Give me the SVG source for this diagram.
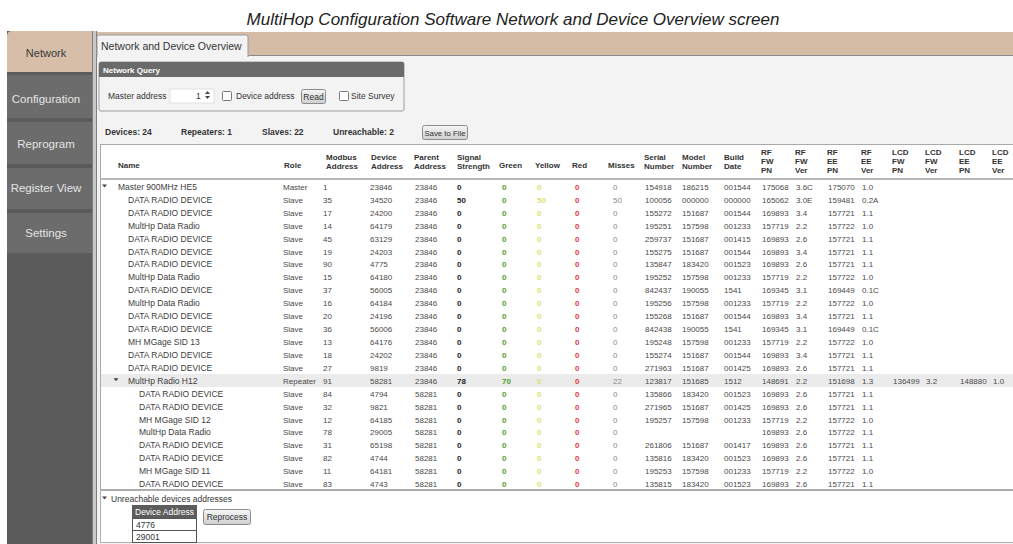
<svg xmlns="http://www.w3.org/2000/svg" width="1013" height="544" viewBox="0 0 1013 544">
<defs>
<linearGradient id="btn" x1="0" y1="0" x2="0" y2="1"><stop offset="0" stop-color="#f6f6f6"/><stop offset="1" stop-color="#cfcfcf"/></linearGradient>
<style>
text{font-family:"Liberation Sans",Arial,sans-serif}
.title{font-size:17px;font-style:italic;fill:#222}
.navt{font-size:11.5px;fill:#e4e4e4;text-anchor:middle}
.nav1{font-size:11px;fill:#3a3a3a;text-anchor:middle}
.tab{fill:#6c6c6c}
.lab{font-size:8.5px;fill:#333}
.bt{font-size:8.5px;fill:#333;text-anchor:middle}
.st{font-size:8.5px;font-weight:bold;fill:#333}
.h{font-size:8px;font-weight:bold;fill:#333}
.nm{font-size:8.5px;fill:#3d3d3d}
.v{font-size:8px;fill:#4a4a4a}
.sg{font-size:8px;font-weight:bold;fill:#1e1e1e}
.gr{font-size:8px;font-weight:bold;fill:#4f9d2d}
.yl{font-size:8px;font-weight:bold;fill:#e0e070}
.rd{font-size:8px;font-weight:bold;fill:#e03a3a}
.ms{font-size:8px;fill:#8a8a8a}
.b{fill:url(#btn);stroke:#8c8c8c;stroke-width:1}
.cb{fill:#fff;stroke:#777;stroke-width:1}
.arw{fill:#444}
</style>
</defs>
<rect width="1013" height="544" fill="#fff"/>
<text class="title" x="513" y="25" text-anchor="middle">MultiHop Configuration Software Network and Device Overview screen</text>

<g id="nav">
<rect x="7" y="31" width="85" height="513" fill="#5b5b5b"/>
<path d="M7,72 V36 Q7,31 12,31 H92 V72 Z" fill="#d6bea8"/>
<rect class="tab" x="7" y="75" width="85" height="43"/>
<rect class="tab" x="7" y="122" width="85" height="42"/>
<rect class="tab" x="7" y="168" width="85" height="41"/>
<rect class="tab" x="7" y="213" width="85" height="40"/>
<text class="nav1" x="46" y="57">Network</text>
<text class="navt" x="46" y="103">Configuration</text>
<text class="navt" x="46" y="148">Reprogram</text>
<text class="navt" x="46" y="192">Register View</text>
<text class="navt" x="46" y="237">Settings</text>
</g>

<g id="frame">
<rect x="92" y="31" width="5" height="513" fill="#c9c9c9"/>
<line x1="92.5" y1="31" x2="92.5" y2="544" stroke="#7d7d7d"/>
<line x1="96.5" y1="31" x2="96.5" y2="544" stroke="#7d7d7d"/>
<rect x="97" y="32" width="916" height="23" fill="#d5bca6"/>
<rect x="97" y="55" width="916" height="489" fill="#f3f3f3"/>
<line x1="97" y1="55.5" x2="1013" y2="55.5" stroke="#8b8b8b"/>
<path d="M97,57 V37 Q97,35 99,35 H246 Q248,35 248,37 V57" fill="#f3f3f3" stroke="#9a9a9a"/>
<text x="101" y="50" font-size="10.5" fill="#333">Network and Device Overview</text>
</g>

<g id="network-query">
<rect x="99" y="62" width="305" height="49" rx="2" fill="#f3f3f3" stroke="#9c9c9c"/>
<path d="M99,77 V64 Q99,62 101,62 H402 Q404,62 404,64 V77 Z" fill="#6a6a6a"/>
<text x="103" y="73" font-size="8px" font-weight="bold" fill="#fff">Network Query</text>
<text class="lab" x="108" y="99">Master address</text>
<rect x="170" y="89" width="44" height="14" fill="#fff" stroke="#e2e2e2"/>
<text class="lab" x="196" y="99">1</text>
<polygon class="arw" points="205,94 207.5,91 210,94"/>
<polygon class="arw" points="205,96 207.5,99 210,96"/>
<rect class="cb" x="222.5" y="91.5" width="9" height="9" rx="1"/>
<text class="lab" x="236" y="99">Device address</text>
<rect class="b" x="301.5" y="89.5" width="24" height="14" rx="2"/>
<text class="bt" x="313.5" y="99.5">Read</text>
<rect class="cb" x="339.5" y="91.5" width="9" height="9" rx="1"/>
<text class="lab" x="351" y="99">Site Survey</text>
</g>

<g id="stats">
<text class="st" x="105" y="135">Devices: 24</text>
<text class="st" x="181" y="135">Repeaters: 1</text>
<text class="st" x="262" y="135">Slaves: 22</text>
<text class="st" x="333" y="135">Unreachable: 2</text>
<rect class="b" x="422.5" y="125.5" width="45" height="14" rx="2"/>
<text x="445" y="135.5" font-size="7.8px" fill="#333" text-anchor="middle">Save to File</text>
</g>

<g id="table">
<rect x="100.5" y="144.5" width="915" height="345" fill="#fff" stroke="#a9a9a9"/>
<rect x="101" y="374" width="912" height="13" fill="#ebebeb"/>
<line x1="101" y1="179" x2="1013" y2="179" stroke="#b8b8b8" stroke-width="2"/>
<g id="header">
<text class="h" x="118" y="168">Name</text>
<text class="h" x="284" y="168">Role</text>
<text class="h" x="326" y="160">Modbus</text><text class="h" x="326" y="169">Address</text>
<text class="h" x="371" y="160">Device</text><text class="h" x="371" y="169">Address</text>
<text class="h" x="414" y="160">Parent</text><text class="h" x="414" y="169">Address</text>
<text class="h" x="457" y="160">Signal</text><text class="h" x="457" y="169">Strength</text>
<text class="h" x="499" y="168">Green</text>
<text class="h" x="535" y="168">Yellow</text>
<text class="h" x="572" y="168">Red</text>
<text class="h" x="608" y="168">Misses</text>
<text class="h" x="644" y="160">Serial</text><text class="h" x="644" y="169">Number</text>
<text class="h" x="682" y="160">Model</text><text class="h" x="682" y="169">Number</text>
<text class="h" x="724" y="160">Build</text><text class="h" x="724" y="169">Date</text>
<text class="h" x="761" y="155">RF</text><text class="h" x="761" y="164">FW</text><text class="h" x="761" y="173">PN</text>
<text class="h" x="795" y="155">RF</text><text class="h" x="795" y="164">FW</text><text class="h" x="795" y="173">Ver</text>
<text class="h" x="827" y="155">RF</text><text class="h" x="827" y="164">EE</text><text class="h" x="827" y="173">PN</text>
<text class="h" x="861" y="155">RF</text><text class="h" x="861" y="164">EE</text><text class="h" x="861" y="173">Ver</text>
<text class="h" x="892" y="155">LCD</text><text class="h" x="892" y="164">FW</text><text class="h" x="892" y="173">PN</text>
<text class="h" x="925" y="155">LCD</text><text class="h" x="925" y="164">FW</text><text class="h" x="925" y="173">Ver</text>
<text class="h" x="959" y="155">LCD</text><text class="h" x="959" y="164">EE</text><text class="h" x="959" y="173">PN</text>
<text class="h" x="992" y="155">LCD</text><text class="h" x="992" y="164">EE</text><text class="h" x="992" y="173">Ver</text>
</g>

<g id="row0" transform="translate(0,189.9)"><polygon class="arw" points="102,-5.5 107,-5.5 104.5,-2.5"/><text class="nm" x="118">Master 900MHz HE5</text><text class="v" x="283">Master</text><text class="v" x="323">1</text><text class="v" x="370">23846</text><text class="v" x="415">23846</text><text class="sg" x="457">0</text><text class="gr" x="502">0</text><text class="yl" x="537">0</text><text class="rd" x="575">0</text><text class="ms" x="613">0</text><text class="v" x="645">154918</text><text class="v" x="682">186215</text><text class="v" x="724">001544</text><text class="v" x="762">175068</text><text class="v" x="796">3.6C</text><text class="v" x="828">175070</text><text class="v" x="862">1.0</text></g>
<g id="row1" transform="translate(0,202.8)"><text class="nm" x="128">DATA  RADIO DEVICE</text><text class="v" x="283">Slave</text><text class="v" x="323">35</text><text class="v" x="370">34520</text><text class="v" x="415">23846</text><text class="sg" x="457">50</text><text class="gr" x="502">0</text><text class="yl" x="537">50</text><text class="rd" x="575">0</text><text class="ms" x="613">50</text><text class="v" x="645">100056</text><text class="v" x="682">000000</text><text class="v" x="724">000000</text><text class="v" x="762">165062</text><text class="v" x="796">3.0E</text><text class="v" x="828">159481</text><text class="v" x="862">0.2A</text></g>
<g id="row2" transform="translate(0,215.7)"><text class="nm" x="128">DATA  RADIO DEVICE</text><text class="v" x="283">Slave</text><text class="v" x="323">17</text><text class="v" x="370">24200</text><text class="v" x="415">23846</text><text class="sg" x="457">0</text><text class="gr" x="502">0</text><text class="yl" x="537">0</text><text class="rd" x="575">0</text><text class="ms" x="613">0</text><text class="v" x="645">155272</text><text class="v" x="682">151687</text><text class="v" x="724">001544</text><text class="v" x="762">169893</text><text class="v" x="796">3.4</text><text class="v" x="828">157721</text><text class="v" x="862">1.1</text></g>
<g id="row3" transform="translate(0,228.7)"><text class="nm" x="128">MultHp Data  Radio</text><text class="v" x="283">Slave</text><text class="v" x="323">14</text><text class="v" x="370">64179</text><text class="v" x="415">23846</text><text class="sg" x="457">0</text><text class="gr" x="502">0</text><text class="yl" x="537">0</text><text class="rd" x="575">0</text><text class="ms" x="613">0</text><text class="v" x="645">195251</text><text class="v" x="682">157598</text><text class="v" x="724">001233</text><text class="v" x="762">157719</text><text class="v" x="796">2.2</text><text class="v" x="828">157722</text><text class="v" x="862">1.0</text></g>
<g id="row4" transform="translate(0,241.6)"><text class="nm" x="128">DATA  RADIO DEVICE</text><text class="v" x="283">Slave</text><text class="v" x="323">45</text><text class="v" x="370">63129</text><text class="v" x="415">23846</text><text class="sg" x="457">0</text><text class="gr" x="502">0</text><text class="yl" x="537">0</text><text class="rd" x="575">0</text><text class="ms" x="613">0</text><text class="v" x="645">259737</text><text class="v" x="682">151687</text><text class="v" x="724">001415</text><text class="v" x="762">169893</text><text class="v" x="796">2.6</text><text class="v" x="828">157721</text><text class="v" x="862">1.1</text></g>
<g id="row5" transform="translate(0,254.5)"><text class="nm" x="128">DATA  RADIO DEVICE</text><text class="v" x="283">Slave</text><text class="v" x="323">19</text><text class="v" x="370">24203</text><text class="v" x="415">23846</text><text class="sg" x="457">0</text><text class="gr" x="502">0</text><text class="yl" x="537">0</text><text class="rd" x="575">0</text><text class="ms" x="613">0</text><text class="v" x="645">155275</text><text class="v" x="682">151687</text><text class="v" x="724">001544</text><text class="v" x="762">169893</text><text class="v" x="796">3.4</text><text class="v" x="828">157721</text><text class="v" x="862">1.1</text></g>
<g id="row6" transform="translate(0,267.4)"><text class="nm" x="128">DATA  RADIO DEVICE</text><text class="v" x="283">Slave</text><text class="v" x="323">90</text><text class="v" x="370">4775</text><text class="v" x="415">23846</text><text class="sg" x="457">0</text><text class="gr" x="502">0</text><text class="yl" x="537">0</text><text class="rd" x="575">0</text><text class="ms" x="613">0</text><text class="v" x="645">135847</text><text class="v" x="682">183420</text><text class="v" x="724">001523</text><text class="v" x="762">169893</text><text class="v" x="796">2.6</text><text class="v" x="828">157721</text><text class="v" x="862">1.1</text></g>
<g id="row7" transform="translate(0,280.3)"><text class="nm" x="128">MultHp Data  Radio</text><text class="v" x="283">Slave</text><text class="v" x="323">15</text><text class="v" x="370">64180</text><text class="v" x="415">23846</text><text class="sg" x="457">0</text><text class="gr" x="502">0</text><text class="yl" x="537">0</text><text class="rd" x="575">0</text><text class="ms" x="613">0</text><text class="v" x="645">195252</text><text class="v" x="682">157598</text><text class="v" x="724">001233</text><text class="v" x="762">157719</text><text class="v" x="796">2.2</text><text class="v" x="828">157722</text><text class="v" x="862">1.0</text></g>
<g id="row8" transform="translate(0,293.3)"><text class="nm" x="128">DATA  RADIO DEVICE</text><text class="v" x="283">Slave</text><text class="v" x="323">37</text><text class="v" x="370">56005</text><text class="v" x="415">23846</text><text class="sg" x="457">0</text><text class="gr" x="502">0</text><text class="yl" x="537">0</text><text class="rd" x="575">0</text><text class="ms" x="613">0</text><text class="v" x="645">842437</text><text class="v" x="682">190055</text><text class="v" x="724">1541</text><text class="v" x="762">169345</text><text class="v" x="796">3.1</text><text class="v" x="828">169449</text><text class="v" x="862">0.1C</text></g>
<g id="row9" transform="translate(0,306.2)"><text class="nm" x="128">MultHp Data  Radio</text><text class="v" x="283">Slave</text><text class="v" x="323">16</text><text class="v" x="370">64184</text><text class="v" x="415">23846</text><text class="sg" x="457">0</text><text class="gr" x="502">0</text><text class="yl" x="537">0</text><text class="rd" x="575">0</text><text class="ms" x="613">0</text><text class="v" x="645">195256</text><text class="v" x="682">157598</text><text class="v" x="724">001233</text><text class="v" x="762">157719</text><text class="v" x="796">2.2</text><text class="v" x="828">157722</text><text class="v" x="862">1.0</text></g>
<g id="row10" transform="translate(0,319.1)"><text class="nm" x="128">DATA  RADIO DEVICE</text><text class="v" x="283">Slave</text><text class="v" x="323">20</text><text class="v" x="370">24196</text><text class="v" x="415">23846</text><text class="sg" x="457">0</text><text class="gr" x="502">0</text><text class="yl" x="537">0</text><text class="rd" x="575">0</text><text class="ms" x="613">0</text><text class="v" x="645">155268</text><text class="v" x="682">151687</text><text class="v" x="724">001544</text><text class="v" x="762">169893</text><text class="v" x="796">3.4</text><text class="v" x="828">157721</text><text class="v" x="862">1.1</text></g>
<g id="row11" transform="translate(0,332.0)"><text class="nm" x="128">DATA  RADIO DEVICE</text><text class="v" x="283">Slave</text><text class="v" x="323">36</text><text class="v" x="370">56006</text><text class="v" x="415">23846</text><text class="sg" x="457">0</text><text class="gr" x="502">0</text><text class="yl" x="537">0</text><text class="rd" x="575">0</text><text class="ms" x="613">0</text><text class="v" x="645">842438</text><text class="v" x="682">190055</text><text class="v" x="724">1541</text><text class="v" x="762">169345</text><text class="v" x="796">3.1</text><text class="v" x="828">169449</text><text class="v" x="862">0.1C</text></g>
<g id="row12" transform="translate(0,344.9)"><text class="nm" x="128">MH MGage SID 13</text><text class="v" x="283">Slave</text><text class="v" x="323">13</text><text class="v" x="370">64176</text><text class="v" x="415">23846</text><text class="sg" x="457">0</text><text class="gr" x="502">0</text><text class="yl" x="537">0</text><text class="rd" x="575">0</text><text class="ms" x="613">0</text><text class="v" x="645">195248</text><text class="v" x="682">157598</text><text class="v" x="724">001233</text><text class="v" x="762">157719</text><text class="v" x="796">2.2</text><text class="v" x="828">157722</text><text class="v" x="862">1.0</text></g>
<g id="row13" transform="translate(0,357.9)"><text class="nm" x="128">DATA  RADIO DEVICE</text><text class="v" x="283">Slave</text><text class="v" x="323">18</text><text class="v" x="370">24202</text><text class="v" x="415">23846</text><text class="sg" x="457">0</text><text class="gr" x="502">0</text><text class="yl" x="537">0</text><text class="rd" x="575">0</text><text class="ms" x="613">0</text><text class="v" x="645">155274</text><text class="v" x="682">151687</text><text class="v" x="724">001544</text><text class="v" x="762">169893</text><text class="v" x="796">3.4</text><text class="v" x="828">157721</text><text class="v" x="862">1.1</text></g>
<g id="row14" transform="translate(0,370.8)"><text class="nm" x="128">DATA  RADIO DEVICE</text><text class="v" x="283">Slave</text><text class="v" x="323">27</text><text class="v" x="370">9819</text><text class="v" x="415">23846</text><text class="sg" x="457">0</text><text class="gr" x="502">0</text><text class="yl" x="537">0</text><text class="rd" x="575">0</text><text class="ms" x="613">0</text><text class="v" x="645">271963</text><text class="v" x="682">151687</text><text class="v" x="724">001425</text><text class="v" x="762">169893</text><text class="v" x="796">2.6</text><text class="v" x="828">157721</text><text class="v" x="862">1.1</text></g>
<g id="row15" transform="translate(0,383.7)"><polygon class="arw" points="113.5,-5.5 118.5,-5.5 116,-2.5"/><text class="nm" x="128">MultHp Radio H12</text><text class="v" x="283">Repeater</text><text class="v" x="323">91</text><text class="v" x="370">58281</text><text class="v" x="415">23846</text><text class="sg" x="457">78</text><text class="gr" x="502">70</text><text class="yl" x="537">0</text><text class="rd" x="575">0</text><text class="ms" x="613">22</text><text class="v" x="645">123817</text><text class="v" x="682">151685</text><text class="v" x="724">1512</text><text class="v" x="762">148691</text><text class="v" x="796">2.2</text><text class="v" x="828">151698</text><text class="v" x="862">1.3</text><text class="v" x="893">136499</text><text class="v" x="926">3.2</text><text class="v" x="960">148880</text><text class="v" x="993">1.0</text></g>
<g id="row16" transform="translate(0,396.6)"><text class="nm" x="139">DATA  RADIO DEVICE</text><text class="v" x="283">Slave</text><text class="v" x="323">84</text><text class="v" x="370">4794</text><text class="v" x="415">58281</text><text class="sg" x="457">0</text><text class="gr" x="502">0</text><text class="yl" x="537">0</text><text class="rd" x="575">0</text><text class="ms" x="613">0</text><text class="v" x="645">135866</text><text class="v" x="682">183420</text><text class="v" x="724">001523</text><text class="v" x="762">169893</text><text class="v" x="796">2.6</text><text class="v" x="828">157721</text><text class="v" x="862">1.1</text></g>
<g id="row17" transform="translate(0,409.5)"><text class="nm" x="139">DATA  RADIO DEVICE</text><text class="v" x="283">Slave</text><text class="v" x="323">32</text><text class="v" x="370">9821</text><text class="v" x="415">58281</text><text class="sg" x="457">0</text><text class="gr" x="502">0</text><text class="yl" x="537">0</text><text class="rd" x="575">0</text><text class="ms" x="613">0</text><text class="v" x="645">271965</text><text class="v" x="682">151687</text><text class="v" x="724">001425</text><text class="v" x="762">169893</text><text class="v" x="796">2.6</text><text class="v" x="828">157721</text><text class="v" x="862">1.1</text></g>
<g id="row18" transform="translate(0,422.5)"><text class="nm" x="139">MH MGage SID 12</text><text class="v" x="283">Slave</text><text class="v" x="323">12</text><text class="v" x="370">64185</text><text class="v" x="415">58281</text><text class="sg" x="457">0</text><text class="gr" x="502">0</text><text class="yl" x="537">0</text><text class="rd" x="575">0</text><text class="ms" x="613">0</text><text class="v" x="645">195257</text><text class="v" x="682">157598</text><text class="v" x="724">001233</text><text class="v" x="762">157719</text><text class="v" x="796">2.2</text><text class="v" x="828">157722</text><text class="v" x="862">1.0</text></g>
<g id="row19" transform="translate(0,435.4)"><text class="nm" x="139">MultHp Data  Radio</text><text class="v" x="283">Slave</text><text class="v" x="323">78</text><text class="v" x="370">29005</text><text class="v" x="415">58281</text><text class="sg" x="457">0</text><text class="gr" x="502">0</text><text class="yl" x="537">0</text><text class="rd" x="575">0</text><text class="ms" x="613">0</text><text class="v" x="762">169893</text><text class="v" x="796">2.6</text><text class="v" x="828">157722</text><text class="v" x="862">1.1</text></g>
<g id="row20" transform="translate(0,448.3)"><text class="nm" x="139">DATA  RADIO DEVICE</text><text class="v" x="283">Slave</text><text class="v" x="323">31</text><text class="v" x="370">65198</text><text class="v" x="415">58281</text><text class="sg" x="457">0</text><text class="gr" x="502">0</text><text class="yl" x="537">0</text><text class="rd" x="575">0</text><text class="ms" x="613">0</text><text class="v" x="645">261806</text><text class="v" x="682">151687</text><text class="v" x="724">001417</text><text class="v" x="762">169893</text><text class="v" x="796">2.6</text><text class="v" x="828">157721</text><text class="v" x="862">1.1</text></g>
<g id="row21" transform="translate(0,461.2)"><text class="nm" x="139">DATA  RADIO DEVICE</text><text class="v" x="283">Slave</text><text class="v" x="323">82</text><text class="v" x="370">4744</text><text class="v" x="415">58281</text><text class="sg" x="457">0</text><text class="gr" x="502">0</text><text class="yl" x="537">0</text><text class="rd" x="575">0</text><text class="ms" x="613">0</text><text class="v" x="645">135816</text><text class="v" x="682">183420</text><text class="v" x="724">001523</text><text class="v" x="762">169893</text><text class="v" x="796">2.6</text><text class="v" x="828">157721</text><text class="v" x="862">1.1</text></g>
<g id="row22" transform="translate(0,474.1)"><text class="nm" x="139">MH MGage SID 11</text><text class="v" x="283">Slave</text><text class="v" x="323">11</text><text class="v" x="370">64181</text><text class="v" x="415">58281</text><text class="sg" x="457">0</text><text class="gr" x="502">0</text><text class="yl" x="537">0</text><text class="rd" x="575">0</text><text class="ms" x="613">0</text><text class="v" x="645">195253</text><text class="v" x="682">157598</text><text class="v" x="724">001233</text><text class="v" x="762">157719</text><text class="v" x="796">2.2</text><text class="v" x="828">157722</text><text class="v" x="862">1.0</text></g>
<g id="row23" transform="translate(0,487.0)"><text class="nm" x="139">DATA  RADIO DEVICE</text><text class="v" x="283">Slave</text><text class="v" x="323">83</text><text class="v" x="370">4743</text><text class="v" x="415">58281</text><text class="sg" x="457">0</text><text class="gr" x="502">0</text><text class="yl" x="537">0</text><text class="rd" x="575">0</text><text class="ms" x="613">0</text><text class="v" x="645">135815</text><text class="v" x="682">183420</text><text class="v" x="724">001523</text><text class="v" x="762">169893</text><text class="v" x="796">2.6</text><text class="v" x="828">157721</text><text class="v" x="862">1.1</text></g>
</g>

<g id="unreachable">
<rect x="100.5" y="490.5" width="915" height="52" fill="#fff" stroke="#b0b0b0"/>
<polygon class="arw" points="102,496.5 107,496.5 104.5,499.5"/>
<text class="lab" x="111" y="502">Unreachable devices addresses</text>
<rect x="132" y="505" width="65" height="13" fill="#5c5c5c"/>
<text x="135" y="515" font-size="8.5px" fill="#fff">Device Address</text>
<rect x="132.5" y="518.5" width="64" height="12" fill="#fff" stroke="#555"/>
<text class="lab" x="136" y="528">4776</text>
<rect x="132.5" y="530.5" width="64" height="12" fill="#fff" stroke="#555"/>
<text class="lab" x="136" y="540">29001</text>
<rect class="b" x="203.5" y="509.5" width="47" height="15" rx="2"/>
<text class="bt" x="227" y="520">Reprocess</text>
</g>
</svg>
